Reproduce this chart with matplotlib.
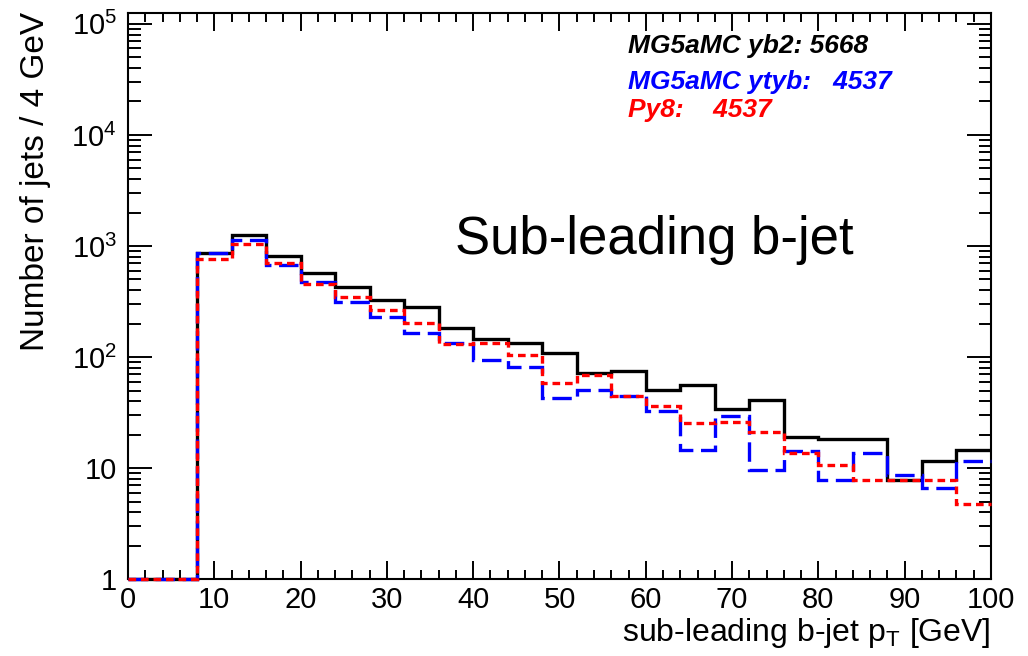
import numpy as np
import matplotlib
matplotlib.use("Agg")
import matplotlib.pyplot as plt
from matplotlib.ticker import FixedLocator, MultipleLocator, LogLocator, FuncFormatter, NullFormatter

plt.rcParams["font.family"] = ["Liberation Sans", "DejaVu Sans"]
plt.rcParams["mathtext.fontset"] = "custom"
plt.rcParams["mathtext.rm"] = "Liberation Sans"
plt.rcParams["mathtext.it"] = "Liberation Sans:italic"
plt.rcParams["lines.scale_dashes"] = False

# 4 GeV bins from 0 to 100 GeV
bin_edges = np.arange(0, 104, 4)

# jets per bin, sub-leading b-jet pT
yb2_counts = [0, 0, 865, 1250, 811, 574, 431, 327, 280, 183, 145, 133, 109,
              72, 75, 51, 56, 34, 41, 19, 18.5, 18.5, 7.8, 11.6, 14.6]
ytyb_counts = [0, 0, 865, 1143, 668, 479, 311, 229, 166, 135, 94, 81, 43,
               51, 45, 33, 14.6, 29.6, 9.6, 14.3, 7.8, 13.6, 8.6, 6.7, 11.6]
py8_counts = [0, 0, 769, 1043, 701, 459, 350, 265, 202, 130, 134, 104, 58,
              69, 45, 36.5, 25.4, 26.3, 21.3, 13.6, 10.6, 7.8, 7.8, 7.8, 4.8]

series_names = ["MG5aMC yb2: 5668", "MG5aMC ytyb:   4537", "Py8:    4537"]
series_colors = ["black", "#0000ff", "#ff0000"]

y_min, y_max = 1, 10 ** 5.1

fig = plt.figure(figsize=(10.28, 6.56), dpi=100)
ax = fig.add_axes([0.1245, 0.1169, 0.8395, 0.8637])

# empty bins sit on the frame bottom, as in a log-y ROOT histogram
def floor(vals):
    return np.clip(np.asarray(vals, dtype=float), y_min, None)

hist_kw = dict(baseline=None, lw=2.4, clip_on=False, zorder=3)
ax.stairs(floor(yb2_counts), bin_edges, color=series_colors[0], **hist_kw)
ax.stairs(floor(ytyb_counts), bin_edges, color=series_colors[1],
          linestyle=(0, (14, 5.5)), **hist_kw)
ax.stairs(floor(py8_counts), bin_edges, color=series_colors[2],
          linestyle=(0, (5.5, 3.5)), **hist_kw)

ax.set_yscale("log")
ax.set_xlim(0, 100)
ax.set_ylim(y_min, y_max)

ax.xaxis.set_major_locator(MultipleLocator(10))
ax.xaxis.set_minor_locator(MultipleLocator(2))
ax.yaxis.set_major_locator(FixedLocator([1, 10, 100, 1e3, 1e4, 1e5]))
ax.yaxis.set_minor_locator(LogLocator(base=10, subs=np.arange(2, 10)))
ax.yaxis.set_minor_formatter(NullFormatter())


def log_label(v, pos):
    if v == 1:
        return "1"
    if v == 10:
        return "10"
    return r"$\mathregular{10^{%d}}$" % int(round(np.log10(v)))


ax.yaxis.set_major_formatter(FuncFormatter(log_label))

ax.tick_params(which="both", direction="in", top=True, right=True, width=1.4, colors="black")
ax.tick_params(axis="x", which="major", length=12.7, labelsize=21, pad=5)
ax.tick_params(axis="x", which="minor", length=6.3)
ax.tick_params(axis="y", which="major", length=17.5, labelsize=21, pad=8)
ax.tick_params(axis="y", which="minor", length=9)
for sp in ax.spines.values():
    sp.set_linewidth(1.5)

# axis titles, ROOT-style: flush to the right/top ends
fig.text(991 / 1028, 1 - 641 / 656, r"sub-leading b-jet p$_\mathregular{T}$ [GeV]",
         ha="right", va="baseline", fontsize=23)
fig.text(36 / 1028, 1 - 12 / 656, "Number of jets / 4 GeV", rotation=90,
         ha="center", va="top", fontsize=24)

# legend-like labels with totals
label_y = [46, 82, 110]
for name, col, yy in zip(series_names, series_colors, label_y):
    fig.text(628 / 1028, 1 - yy / 656, name, color=col, fontsize=19,
             fontweight="bold", fontstyle="italic", ha="left", va="center")

fig.text(455 / 1028, 1 - 240 / 656, "Sub-leading b-jet", fontsize=38,
         ha="left", va="center")

fig.savefig("out.png", dpi=100)
